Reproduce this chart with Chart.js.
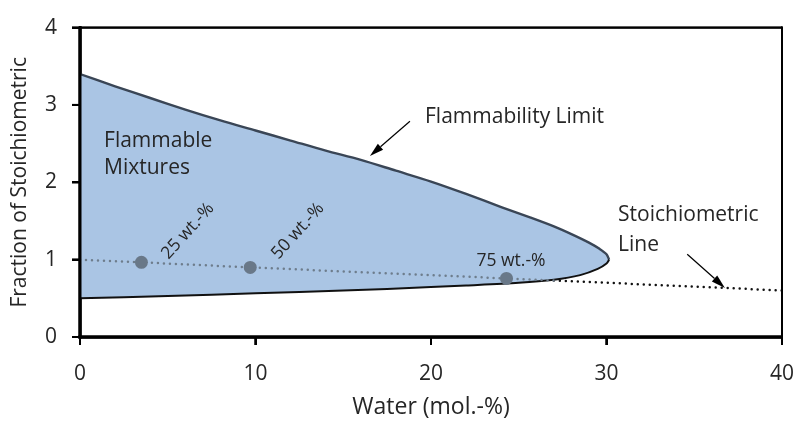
<!DOCTYPE html>
<html>
<head>
<meta charset="utf-8">
<script src="https://cdn.jsdelivr.net/npm/chart.js@4/dist/chart.umd.min.js"></script>
<style>
    html, body { margin: 0; padding: 0; background: #fff; }
    #wrap { width: 798px; height: 421px; }
</style>
</head>
<body>
<div id="wrap"><canvas id="chart"></canvas></div>
<script>
// flammability limit, upper branch (water mol.-%, fraction of stoichiometric)
const upperX = [0, 2, 4, 6, 8, 10, 12, 14, 16, 18, 20, 22, 24, 25.6, 27, 28, 29, 29.6, 30, 30.15];
const upperY = [3.40, 3.24, 3.09, 2.94, 2.80, 2.67, 2.54, 2.41, 2.29, 2.15, 2.01, 1.85, 1.68, 1.55, 1.43, 1.33, 1.22, 1.14, 1.07, 1.00];
// lower branch
const lowerX = [0, 5, 10, 15, 20, 22, 25, 27, 28.5, 29.5, 30, 30.15];
const lowerY = [0.50, 0.53, 0.565, 0.60, 0.645, 0.665, 0.70, 0.74, 0.80, 0.88, 0.95, 1.00];
// stoichiometric line, inside and outside the flammable area
const stoichInX = [0, 3.5, 9.7, 24.3, 27];
const stoichInY = [1.00, 0.965, 0.90, 0.757, 0.73];
const stoichOutX = [27, 36.75, 40];
const stoichOutY = [0.73, 0.635, 0.60];
// mixture points
const massX = [3.5, 9.7, 24.3];
const massY = [0.965, 0.90, 0.757];
const massLabels = ["25 wt.-%", "50 wt.-%", "75 wt.-%"];

const xTicks = [0, 10, 20, 30, 40];
const yTicks = [0, 1, 2, 3, 4];

function pts(xs, ys) {
    var out = [];
    for (var i = 0; i < xs.length; i++) out.push({x: xs[i], y: ys[i]});
    return out;
}

const FONT = "'Open Sans', Lato, sans-serif";
const TXT = "#262626";

// axes, ticks and frame, drawn as filled rectangles
function drawAxes(chart) {
    var ctx = chart.ctx, xs = chart.scales.x, ys = chart.scales.y;
    var px = v => xs.getPixelForValue(v), py = v => ys.getPixelForValue(v);
    var L = px(0), R = px(40), T = py(4), B = py(0);
    ctx.save();
    ctx.globalAlpha = 1;
    ctx.globalCompositeOperation = "source-over";
    ctx.fillStyle = "#000";
    ctx.fillRect(L, T - 1, R - L, 2);
    ctx.fillRect(R - 1, T - 1, 2, B - T + 1);
    ctx.fillRect(L - 1.5, T - 1, 3, B - T + 2.5);
    ctx.fillRect(L - 1.5, B - 1.5, R - L + 2.5, 3);
    xTicks.forEach(v => ctx.fillRect(px(v) - 1, B, 2, 8));
    yTicks.forEach(v => ctx.fillRect(L - 8, py(v) - 1, 8, 2));
    ctx.restore();
}

const notes = {
    id: "notes",
    beforeDatasetsDraw(chart) {
        drawAxes(chart);
    },
    afterDraw(chart) {
        drawAxes(chart);
        var ctx = chart.ctx, xs = chart.scales.x, ys = chart.scales.y;
        var px = v => xs.getPixelForValue(v), py = v => ys.getPixelForValue(v);

        ctx.save();
        ctx.setLineDash([]);
        ctx.lineCap = "butt";
        ctx.fillStyle = TXT;
        ctx.font = "21px " + FONT;
        ctx.textBaseline = "middle";
        ctx.textAlign = "left";
        ctx.fillText("Flammable", px(1.37), py(2.53));
        ctx.fillText("Mixtures", px(1.37), py(2.18));
        ctx.fillText("Flammability Limit", px(19.66), py(2.84));
        ctx.fillText("Stoichiometric", px(30.66), py(1.575));
        ctx.fillText("Line", px(30.66), py(1.19));

        ctx.font = "17.5px " + FONT;
        ctx.textAlign = "center";
        ctx.fillText(massLabels[2], px(24.56), py(0.98));
        var rot = [[6.15, 1.37], [12.42, 1.37]];
        for (var i = 0; i < 2; i++) {
            ctx.save();
            ctx.translate(px(rot[i][0]), py(rot[i][1]));
            ctx.rotate(-48 * Math.PI / 180);
            ctx.fillText(massLabels[i], 0, 0);
            ctx.restore();
        }

        arrow(ctx, px(18.8), py(2.79), px(16.52), py(2.34));
        arrow(ctx, px(34.6), py(1.07), px(36.75), py(0.635));
        ctx.restore();
    }
};

function arrow(ctx, x1, y1, x2, y2) {
    var ang = Math.atan2(y2 - y1, x2 - x1);
    var len = 14, w = 4;
    ctx.strokeStyle = "#000";
    ctx.fillStyle = "#000";
    ctx.lineWidth = 1.2;
    ctx.beginPath();
    ctx.moveTo(x1, y1);
    ctx.lineTo(x2 - Math.cos(ang) * len, y2 - Math.sin(ang) * len);
    ctx.stroke();
    ctx.beginPath();
    ctx.moveTo(x2, y2);
    ctx.lineTo(x2 - Math.cos(ang) * len - Math.sin(ang) * w, y2 - Math.sin(ang) * len + Math.cos(ang) * w);
    ctx.lineTo(x2 - Math.cos(ang) * len + Math.sin(ang) * w, y2 - Math.sin(ang) * len - Math.cos(ang) * w);
    ctx.closePath();
    ctx.fill();
}

var ctx = document.getElementById("chart").getContext("2d");
var chart = new Chart(ctx, {
    type: "line",
    data: {
        datasets: [
            {
                data: pts(upperX, upperY),
                order: 5,
                fill: "+1",
                backgroundColor: "rgb(170,197,228)",
                borderColor: "rgb(58,70,86)",
                borderWidth: 2.4,
                pointRadius: 0,
                tension: 0.3
            },
            {
                data: pts(lowerX, lowerY),
                order: 4,
                borderColor: "#111",
                borderWidth: 2,
                pointRadius: 0,
                fill: false,
                tension: 0.3
            },
            {
                data: pts(stoichInX, stoichInY),
                order: 3,
                borderColor: "rgb(110,125,140)",
                borderWidth: 2.5,
                borderDash: [0, 6],
                borderCapStyle: "round",
                pointRadius: 0,
                fill: false
            },
            {
                data: pts(stoichOutX, stoichOutY),
                order: 3,
                borderColor: "#111",
                borderWidth: 2.5,
                borderDash: [0, 6],
                borderCapStyle: "round",
                pointRadius: 0,
                fill: false
            },
            {
                data: pts(massX, massY),
                order: 1,
                showLine: false,
                pointRadius: 6.5,
                pointBackgroundColor: "rgb(105,120,136)",
                pointBorderWidth: 0,
                fill: false
            }
        ]
    },
    options: {
        responsive: true,
        maintainAspectRatio: false,
        animation: false,
        layout: { padding: { top: 22, right: 16, left: 0, bottom: 0 } },
        plugins: { legend: { display: false }, tooltip: { enabled: false } },
        scales: {
            x: {
                type: "linear",
                min: 0, max: 40,
                afterBuildTicks: s => { s.ticks = xTicks.map(v => ({value: v})); },
                afterFit: s => { s.height = 84; s.paddingLeft = 0; s.paddingRight = 0; },
                ticks: { color: TXT, font: { family: FONT, size: 21 }, padding: 16 },
                grid: { drawOnChartArea: false, drawTicks: true, tickLength: 8, color: "#000", lineWidth: 2 },
                border: { display: true, color: "#000", width: 2.5 },
                title: { display: true, text: "Water (mol.-%)", color: TXT, font: { family: FONT, size: 23 }, padding: { top: 0, bottom: 0 } }
            },
            y: {
                type: "linear",
                min: 0, max: 4,
                afterBuildTicks: s => { s.ticks = yTicks.map(v => ({value: v})); },
                afterFit: s => { s.width = 80; },
                ticks: { color: TXT, font: { family: FONT, size: 21 }, padding: 15 },
                grid: { drawOnChartArea: false, drawTicks: true, tickLength: 8, color: "#000", lineWidth: 2 },
                border: { display: true, color: "#000", width: 2.5 },
                title: { display: true, text: "Fraction of Stoichiometric", color: TXT, font: { family: FONT, size: 21 }, padding: { top: 7, bottom: 0 } }
            }
        }
    },
    plugins: [notes]
});
</script>
</body>
</html>
